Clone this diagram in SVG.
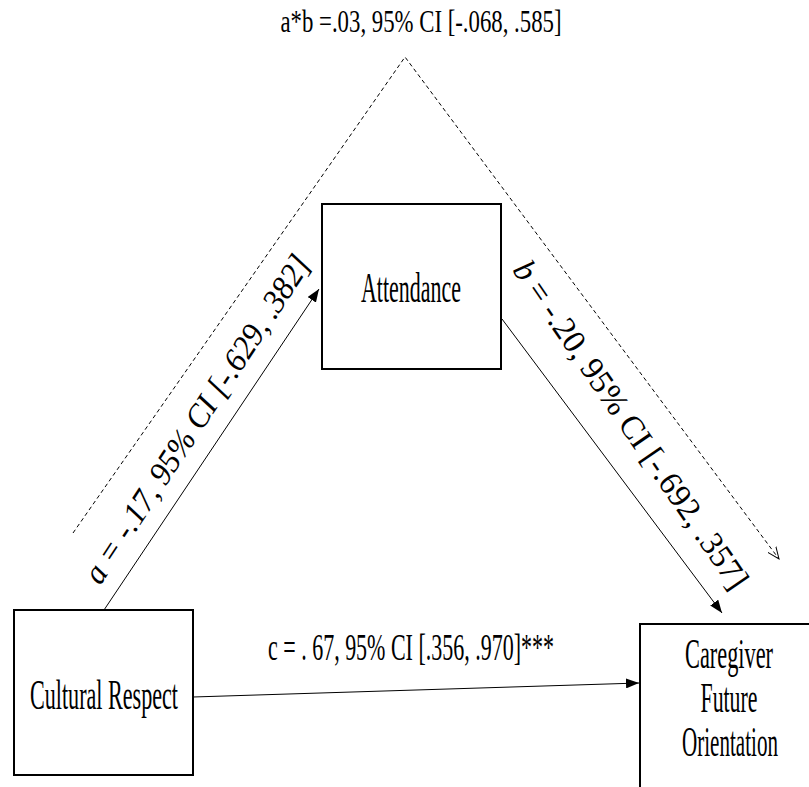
<svg xmlns="http://www.w3.org/2000/svg" width="809" height="787" viewBox="0 0 809 787">
  <style>
    .box { fill: #ffffff; stroke: #000000; stroke-width: 2; }
    .lbl { font-family: "Liberation Serif", "Times New Roman", serif; fill: #000000; }
    .node { font-size: 43px; text-anchor: middle; }
    .conn { stroke: #000000; stroke-width: 1; fill: none; }
    .dash { stroke-dasharray: 4 3; }
  </style>
  <defs>
    <marker id="solid" markerUnits="userSpaceOnUse" markerWidth="14" markerHeight="10" refX="13" refY="5" orient="auto">
      <path d="M0,0 L13,5 L0,10 Z" fill="#000000"/>
    </marker>
    <marker id="open" markerUnits="userSpaceOnUse" markerWidth="14" markerHeight="12" refX="12" refY="6" orient="auto">
      <path d="M0,1 L12,6 L0,11" fill="none" stroke="#000000" stroke-width="1"/>
    </marker>
  </defs>

  <g id="connectors">
    <path class="conn dash" d="M73,533 L405,57 L779,559" marker-end="url(#open)"/>
    <line class="conn" x1="104" y1="610" x2="319" y2="289" marker-end="url(#solid)"/>
    <line class="conn" x1="502" y1="319" x2="722" y2="613" marker-end="url(#solid)"/>
    <line class="conn" x1="193" y1="697" x2="639" y2="683" marker-end="url(#solid)"/>
  </g>

  <g id="labels">
    <text class="lbl" x="421" y="32" font-size="32" text-anchor="middle" textLength="281" lengthAdjust="spacingAndGlyphs">a*b =.03, 95% CI [-.068, .585]</text>
    <text class="lbl" x="411" y="660" font-size="38" text-anchor="middle" textLength="286" lengthAdjust="spacingAndGlyphs">c = . 67, 95% CI [.356, .970]***</text>
    <text class="lbl" font-size="33" font-style="italic" text-anchor="middle" textLength="385" lengthAdjust="spacingAndGlyphs" transform="translate(206,425) rotate(-56.7)">a = -.17, 95% CI [-.629, .382]</text>
    <text class="lbl" font-size="33" text-anchor="middle" textLength="390" lengthAdjust="spacingAndGlyphs" transform="translate(622,431) rotate(55.6)"><tspan font-style="italic">b</tspan> = -.20, 95% CI [-.692, .357]</text>
  </g>

  <g id="node-cultural-respect">
    <rect class="box" x="14" y="610" width="179" height="165"/>
    <text class="lbl node" x="104" y="709" textLength="148" lengthAdjust="spacingAndGlyphs">Cultural Respect</text>
  </g>

  <g id="node-attendance">
    <rect class="box" x="322" y="204" width="179" height="165"/>
    <text class="lbl node" x="411" y="302" textLength="100" lengthAdjust="spacingAndGlyphs">Attendance</text>
  </g>

  <g id="node-caregiver">
    <rect class="box" x="640" y="624" width="180" height="180"/>
    <text class="lbl node" x="729" y="668" textLength="88" lengthAdjust="spacingAndGlyphs">Caregiver</text>
    <text class="lbl node" x="729" y="712" textLength="57" lengthAdjust="spacingAndGlyphs">Future</text>
    <text class="lbl node" x="730" y="756" textLength="96" lengthAdjust="spacingAndGlyphs">Orientation</text>
  </g>
</svg>
